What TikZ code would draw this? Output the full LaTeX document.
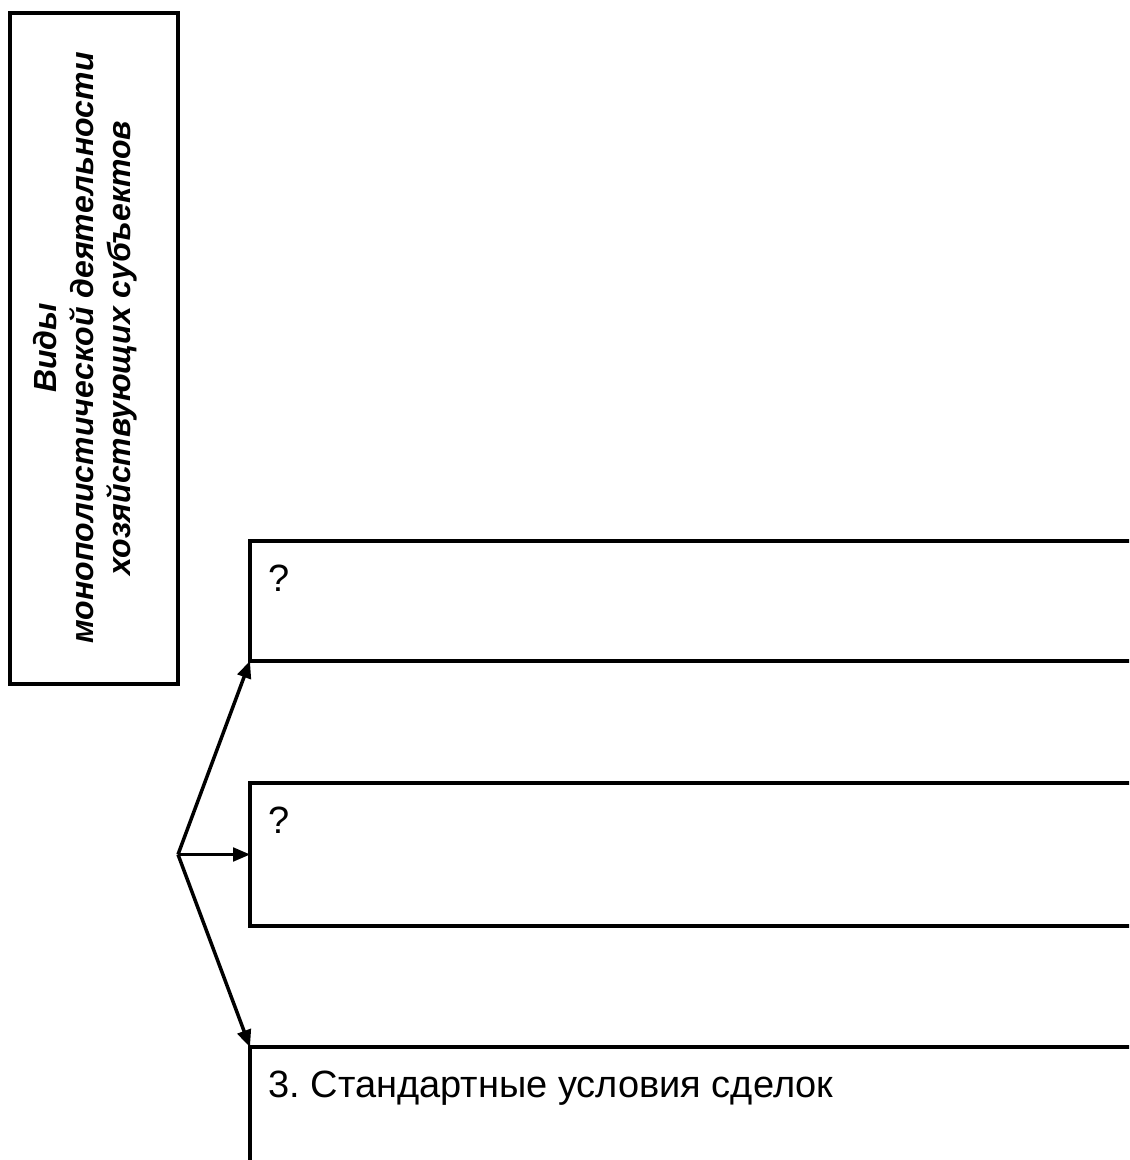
\documentclass[tikz,border=0pt]{standalone}
\usepackage{fontspec}
\setmainfont{Liberation Sans}
\usetikzlibrary{arrows.meta,positioning}
\tikzset{
  kind-frame/.style={draw=black, line width=2pt, inner sep=0pt, outer sep=0pt,
    minimum width=84pt, minimum height=335.5pt},
  kind-title/.style={rotate=90, align=center, inner sep=0pt,
    font=\bfseries\itshape\fontsize{16}{18.6}\selectfont},
  kind-box/.style={draw=black, line width=2pt, inner sep=0pt, outer sep=0pt,
    anchor=north west, minimum width=445pt},
  kind-label/.style={anchor=base west, inner sep=0pt, font=\fontsize{19}{22}\selectfont},
  kind-link/.style={-{Triangle[length=8.5pt,width=7pt]}, line width=1.75pt}
}
\begin{document}
\frenchspacing
\begin{tikzpicture}[x=0.5pt, y=0.5pt]
  \useasboundingbox (0,0) rectangle (1129,1160);
  \clip (0,0) rectangle (1129,1160);

  % left frame with the rotated heading
  \node[kind-frame] (frame) at (93.5,811) {};
  \node[kind-title] (title) at (85,812) {Виды\\монополистической деятельности\\хозяйствующих субъектов};

  % three boxes, cut off at the page edge
  \node[kind-box, minimum height=60pt] (first) at (250,619) {};
  \node[kind-label] (firstq) at ([xshift=9pt, yshift=-25.5pt]first.north west) {?};

  \node[kind-box, minimum height=71.5pt] (second) at (250,377) {};
  \node[kind-label] (secondq) at ([xshift=9pt, yshift=-25.5pt]second.north west) {?};

  \node[kind-box, minimum height=77.5pt] (third) at (250,113) {};
  \node[kind-label] (thirdtxt) at ([xshift=9pt, yshift=-25.5pt]third.north west) {3. Стандартные условия сделок};

  % fork
  \coordinate (fork) at ([xshift=-36pt]second.west);
  \draw[kind-link] (fork) -- (first.south west);
  \draw[kind-link, line width=1.1pt] (fork) -- (second.west);
  \draw[kind-link] (fork) -- (third.north west);
\end{tikzpicture}
\end{document}
